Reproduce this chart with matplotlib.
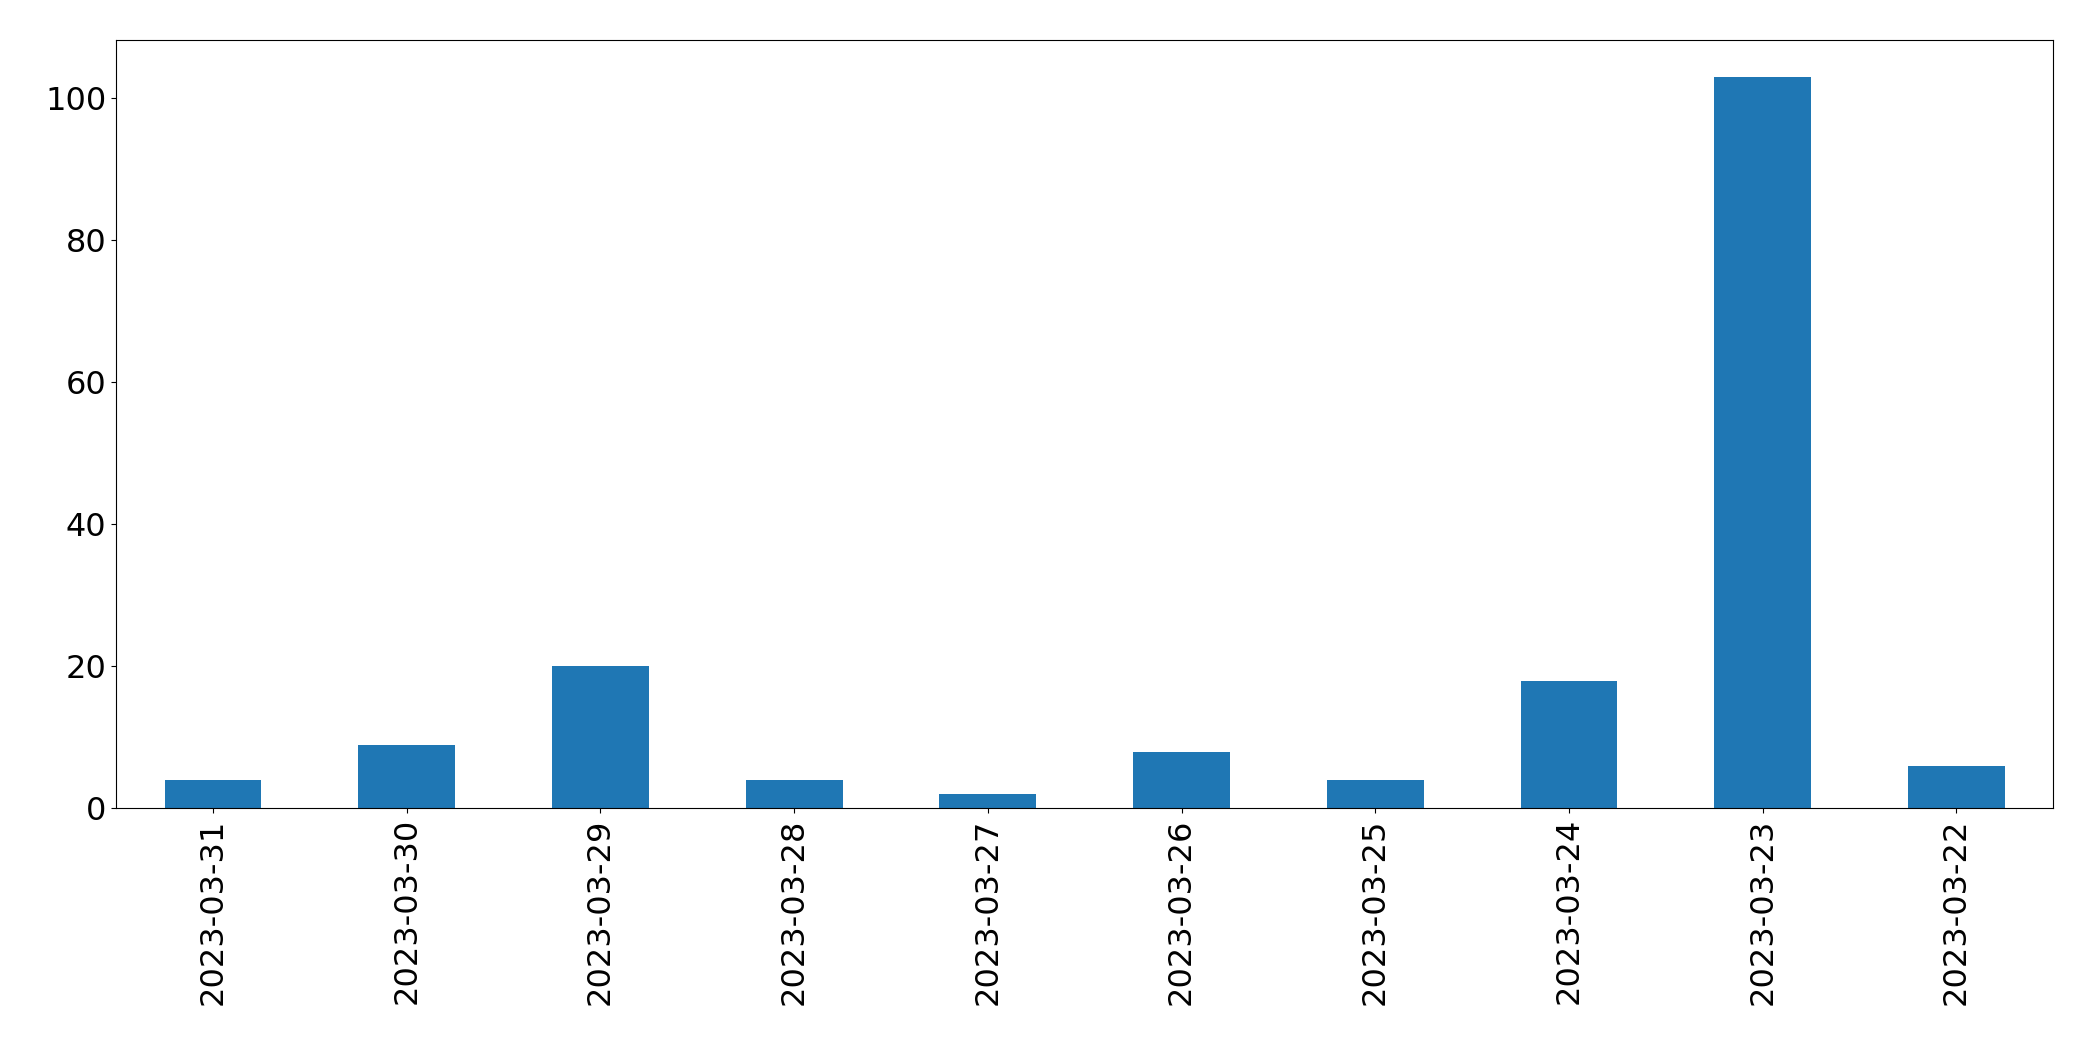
import matplotlib
matplotlib.use("Agg")
import matplotlib.pyplot as plt

dates = ['2023-03-31', '2023-03-30', '2023-03-29', '2023-03-28', '2023-03-27',
         '2023-03-26', '2023-03-25', '2023-03-24', '2023-03-23', '2023-03-22']
counts = [4, 9, 20, 4, 2, 8, 4, 18, 103, 6]

fig = plt.figure(figsize=(20.93, 10.61), dpi=100)
ax = fig.add_axes([0.0555, 0.238, 0.9255, 0.724])
x = list(range(len(dates)))
ax.bar(x, counts, width=0.5, color='#1f77b4')
ax.set_xlim(-0.5, len(dates) - 0.5)
ax.set_ylim(0, max(counts) * 1.05)
ax.set_xticks(x)
ax.set_xticklabels(dates, rotation=90)
ax.tick_params(labelsize=23)
fig.savefig("out.png")
plt.close(fig)
